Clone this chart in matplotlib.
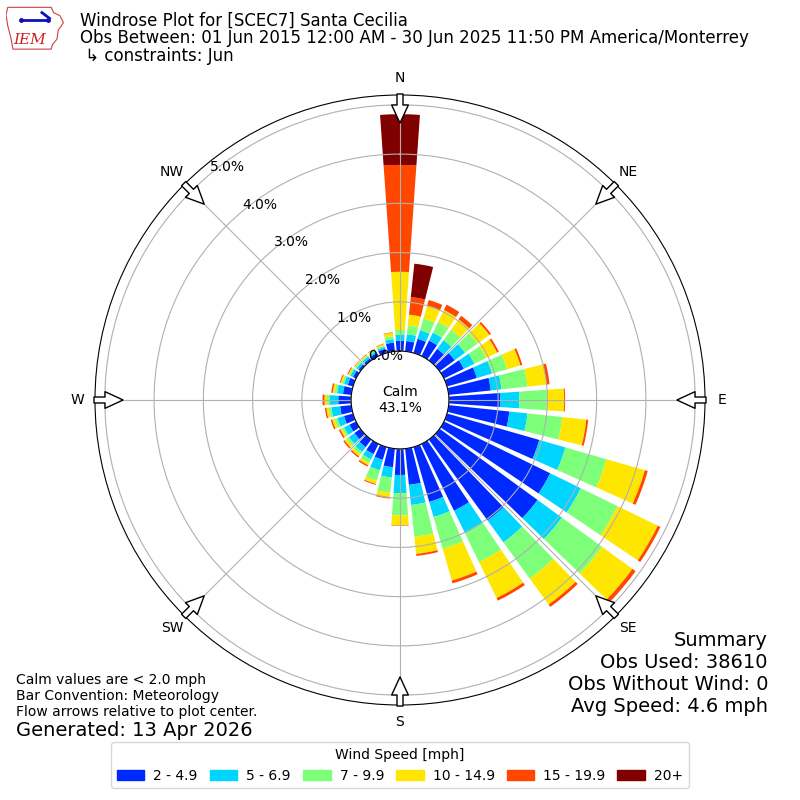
import numpy as np
import matplotlib
matplotlib.use("Agg")
import matplotlib.pyplot as plt
from matplotlib.patches import Polygon, Patch

# direction of each 10 degree sector (degrees from north)
directions = np.arange(0, 360, 10)

# percent of observations in each sector, one list per speed bin
spd_2_49 = [0.21, 0.21, 0.30, 0.35, 0.29, 0.38, 0.45, 0.63, 0.86, 1.04, 1.24, 1.95,
            2.40, 2.46, 2.03, 1.51, 1.16, 0.74, 0.53, 0.38, 0.27, 0.23, 0.19, 0.15,
            0.15, 0.19, 0.23, 0.26, 0.17, 0.11, 0.07, 0.05, 0.05, 0.07, 0.09, 0.18]
spd_5_69 = [0.12, 0.14, 0.18, 0.18, 0.22, 0.26, 0.24, 0.32, 0.22, 0.39, 0.37, 0.55,
            0.69, 0.61, 0.55, 0.51, 0.32, 0.41, 0.37, 0.21, 0.22, 0.12, 0.12, 0.14,
            0.12, 0.14, 0.18, 0.17, 0.12, 0.08, 0.06, 0.05, 0.05, 0.04, 0.04, 0.07]
spd_7_99 = [0.10, 0.18, 0.25, 0.24, 0.26, 0.31, 0.26, 0.32, 0.53, 0.56, 0.71, 0.87,
            0.83, 1.01, 0.91, 0.65, 0.67, 0.65, 0.45, 0.31, 0.22, 0.08, 0.06, 0.06,
            0.05, 0.06, 0.05, 0.06, 0.05, 0.04, 0.03, 0.03, 0.03, 0.03, 0.03, 0.06]
spd_10_149 = [1.18, 0.22, 0.27, 0.27, 0.26, 0.30, 0.25, 0.28, 0.39, 0.35, 0.49, 0.81,
              0.91, 0.76, 0.65, 0.81, 0.67, 0.35, 0.20, 0.09, 0.07, 0.05, 0.05, 0.05,
              0.04, 0.05, 0.05, 0.05, 0.04, 0.03, 0.02, 0.02, 0.02, 0.02, 0.03, 0.07]
spd_15_199 = [2.17, 0.36, 0.12, 0.12, 0.09, 0.04, 0.04, 0.04, 0.06, 0.02, 0.04, 0.06,
              0.06, 0.08, 0.06, 0.06, 0.06, 0.04, 0.01, 0.03, 0.02, 0.03, 0.03, 0.03,
              0.03, 0.03, 0.03, 0.04, 0.03, 0.02, 0.02, 0.01, 0.01, 0.01, 0.01, 0.01]
spd_20p = [1.03, 0.68, 0.0, 0.0, 0.0, 0.0, 0.0, 0.0, 0.0, 0.0, 0.0, 0.0,
           0.0, 0.0, 0.0, 0.0, 0.0, 0.0, 0.0, 0.0, 0.0, 0.0, 0.0, 0.0,
           0.0, 0.0, 0.0, 0.0, 0.0, 0.0, 0.0, 0.0, 0.0, 0.0, 0.0, 0.0]

speed_labels = ["2 - 4.9", "5 - 6.9", "7 - 9.9", "10 - 14.9", "15 - 19.9", "20+"]
calm_pct = 43.1
rticks = [0, 1, 2, 3, 4, 5]
compass = ["N", "NE", "E", "SE", "S", "SW", "W", "NW"]

bins = [spd_2_49, spd_5_69, spd_7_99, spd_10_149, spd_15_199, spd_20p]
colors = plt.cm.jet(np.linspace(1 / 6., 1, 6))

fig = plt.figure(figsize=(8, 8), dpi=100)
ax = fig.add_axes([0.11875, 0.11875, 0.7625, 0.7625], projection="polar")
ax.set_theta_zero_location("N")
ax.set_theta_direction(-1)

theta = np.deg2rad(directions)
bottom = np.zeros(len(directions))
for vals, c, lab in zip(bins, colors, speed_labels):
    ax.bar(theta, vals, width=np.deg2rad(8), bottom=bottom, color=c,
           linewidth=0, label=lab)
    bottom = bottom + np.array(vals)

ax.set_ylim(0, 5.2)
ax.set_rorigin(-0.993)
ax.set_yticks(rticks)
ax.set_yticklabels(["%.1f%%" % v for v in rticks], fontsize=10)
ax.set_rlabel_position(-40)
ax.set_xticks(np.deg2rad(np.arange(0, 360, 45)))
ax.set_xticklabels(compass, fontsize=10)
ax.tick_params(axis="x", pad=2)
ax.grid(True, color="#b0b0b0", lw=0.8)

# flow arrows pointing to the center
for a in np.arange(0, 360, 45):
    ax.annotate("", xy=(np.deg2rad(a), 4.63), xytext=(np.deg2rad(a), 5.22),
                arrowprops=dict(arrowstyle="simple,head_length=1.3,head_width=1.2,tail_width=0.43",
                                fc="white", ec="black", lw=1, shrinkA=0, shrinkB=0,
                                mutation_scale=10),
                annotation_clip=False, zorder=6)

ax.text(0.5, 0.5, "Calm\n%.1f%%" % calm_pct, transform=ax.transAxes,
        ha="center", va="center", fontsize=10)

# header
fig.text(0.1, 1 - 21 / 800., "Windrose Plot for [SCEC7] Santa Cecilia", fontsize=12, va="center")
fig.text(0.1, 1 - 38 / 800., "Obs Between: 01 Jun 2015 12:00 AM - 30 Jun 2025 11:50 PM America/Monterrey",
         fontsize=12, va="center")
fig.text(0.1, 1 - 56 / 800., " \u21b3 constraints: Jun", fontsize=12, va="center")

# logo
lax = fig.add_axes([0.0075, 0.9375, 0.0725, 0.055])
lax.set_xlim(0, 1)
lax.set_ylim(0, 1)
lax.axis("off")
outline = [(0.03, 0.97), (0.78, 0.97), (0.82, 0.85), (0.93, 0.78), (0.99, 0.62),
           (0.90, 0.45), (0.88, 0.25), (0.80, 0.12), (0.78, 0.02), (0.12, 0.02),
           (0.08, 0.30), (0.03, 0.55), (0.0, 0.80)]
lax.add_patch(Polygon(outline, closed=True, fc="white", ec="#d04040", lw=0.8))
lax.plot([0.25, 0.72], [0.68, 0.68], color="#1010c0", lw=2)
lax.plot([0.25, 0.72], [0.68, 0.68], "o", color="#1010c0", ms=2.5)
lax.plot([0.62, 0.75], [0.85, 0.72], color="#1010c0", lw=2)
lax.text(0.12, 0.22, "IEM", color="#d02020", fontsize=11, style="italic",
         family="DejaVu Serif", va="center")

# footer notes
fig.text(0.02, 1 - 680 / 800., "Calm values are < 2.0 mph", fontsize=10, va="center")
fig.text(0.02, 1 - 696 / 800., "Bar Convention: Meteorology", fontsize=10, va="center")
fig.text(0.02, 1 - 712 / 800., "Flow arrows relative to plot center.", fontsize=10, va="center")
fig.text(0.02, 1 - 730 / 800., "Generated: 13 Apr 2026", fontsize=14, va="center")

summary = ["Summary", "Obs Used: 38610", "Obs Without Wind: 0", "Avg Speed: 4.6 mph"]
for i, line in enumerate(summary):
    fig.text(0.96, 1 - (640 + 22 * i) / 800., line, fontsize=14, ha="right", va="center")

handles = [Patch(color=c, label=lab) for c, lab in zip(colors, speed_labels)]
fig.legend(handles=handles, loc="lower center", bbox_to_anchor=(0.5, 0.006), ncol=6,
           title="Wind Speed [mph]", fontsize=10, title_fontsize=10,
           columnspacing=0.85, handletextpad=0.65)

fig.savefig("out.png", dpi=100)
